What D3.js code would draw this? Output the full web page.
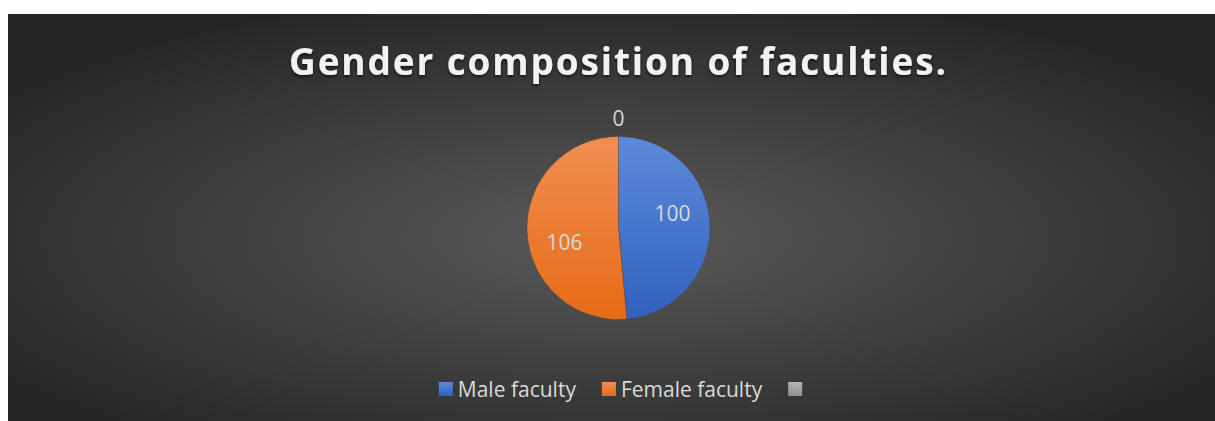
<!DOCTYPE html>
<html><head><meta charset="utf-8">
<script src="https://cdn.jsdelivr.net/npm/d3@7"></script>
<style>html,body{margin:0;padding:0;background:#fff;overflow:hidden} text{font-variant-ligatures:none}</style>
</head><body>
<svg id="c" width="1215" height="421"></svg>
<script>
const title = "Gender composition of faculties.";
const categories = ["Male faculty", "Female faculty", ""];
const values = [100, 106, 0];
const colors = [["#5d8ad8","#3161be"],["#f28d52","#e66c16"],["#b5b5b5","#8f8f8f"]];

const svg = d3.select("#c");
const defs = svg.append("defs");
const bg = defs.append("radialGradient").attr("id","bg").attr("cx","0.5").attr("cy","0.55").attr("r","0.62");
bg.append("stop").attr("offset","0").attr("stop-color","#5a5a5a");
bg.append("stop").attr("offset","1").attr("stop-color","#262626");
colors.forEach((c,i)=>{
  const g = defs.append("linearGradient").attr("id","g"+i).attr("x1",0).attr("y1",0).attr("x2",0).attr("y2",1);
  g.append("stop").attr("offset",0).attr("stop-color",c[0]);
  g.append("stop").attr("offset",1).attr("stop-color",c[1]);
});
const f = defs.append("filter").attr("id","sh").attr("x","-10%").attr("y","-30%").attr("width","120%").attr("height","160%");
f.append("feDropShadow").attr("dx",0).attr("dy",2).attr("stdDeviation",1.5).attr("flood-color","#000").attr("flood-opacity",0.6);

svg.append("rect").attr("x",8).attr("y",14).attr("width",1207).attr("height",407).attr("fill","url(#bg)");

svg.append("text").attr("x",617.5).attr("y",74.5).attr("text-anchor","middle")
  .attr("font-family","Open Sans").attr("font-weight","bold").attr("font-size",37)
  .attr("fill","#f2f2f2").attr("filter","url(#sh)")
  .attr("textLength",657).attr("lengthAdjust","spacing").text(title);

const cx = 618.5, cy = 228, R = 91.5;
const pie = d3.pie().sort(null).value(d=>d)(values);
const arc = d3.arc().innerRadius(0).outerRadius(R);
const g = svg.append("g").attr("transform",`translate(${cx},${cy})`);
pie.forEach((d,i)=>{
  if (d.endAngle - d.startAngle <= 0) return;
  g.append("path").attr("d",arc(d)).attr("fill",`url(#g${i})`)
    .attr("stroke","#4a4a4a").attr("stroke-width",0.5);
});
const shift = -0.22, inR = 56, outR = 110;
pie.forEach((d,i)=>{
  const zero = d.endAngle - d.startAngle <= 0;
  const a = zero ? d.startAngle : (d.startAngle+d.endAngle)/2 + shift;
  const r = zero ? outR : inR;
  g.append("text").attr("x", r*Math.sin(a)).attr("y", -r*Math.cos(a)).attr("dy","0.36em")
    .attr("text-anchor","middle").attr("font-family","Open Sans").attr("font-size",21)
    .attr("fill","#d9d9d9").text(values[i]);
});

// legend
const leg = svg.append("g");
const sq = 14, gap = 5, spacing = 26, ly = 389;
let x = 0;
categories.forEach((c,i)=>{
  const it = leg.append("g").attr("transform",`translate(${x},0)`);
  it.append("rect").attr("x",0).attr("y",ly-7).attr("width",sq).attr("height",sq).attr("fill",`url(#g${i})`);
  const t = it.append("text").attr("x",sq+gap).attr("y",ly).attr("dy","0.36em")
    .attr("font-family","Open Sans").attr("font-size",21).attr("fill","#d9d9d9").text(c);
  const w = c ? t.node().getComputedTextLength() : 0;
  x += sq + (c ? gap + w : 0) + spacing;
});
const total = x - spacing;
leg.attr("transform",`translate(${620.5 - total/2},0)`);
</script>
</body></html>
